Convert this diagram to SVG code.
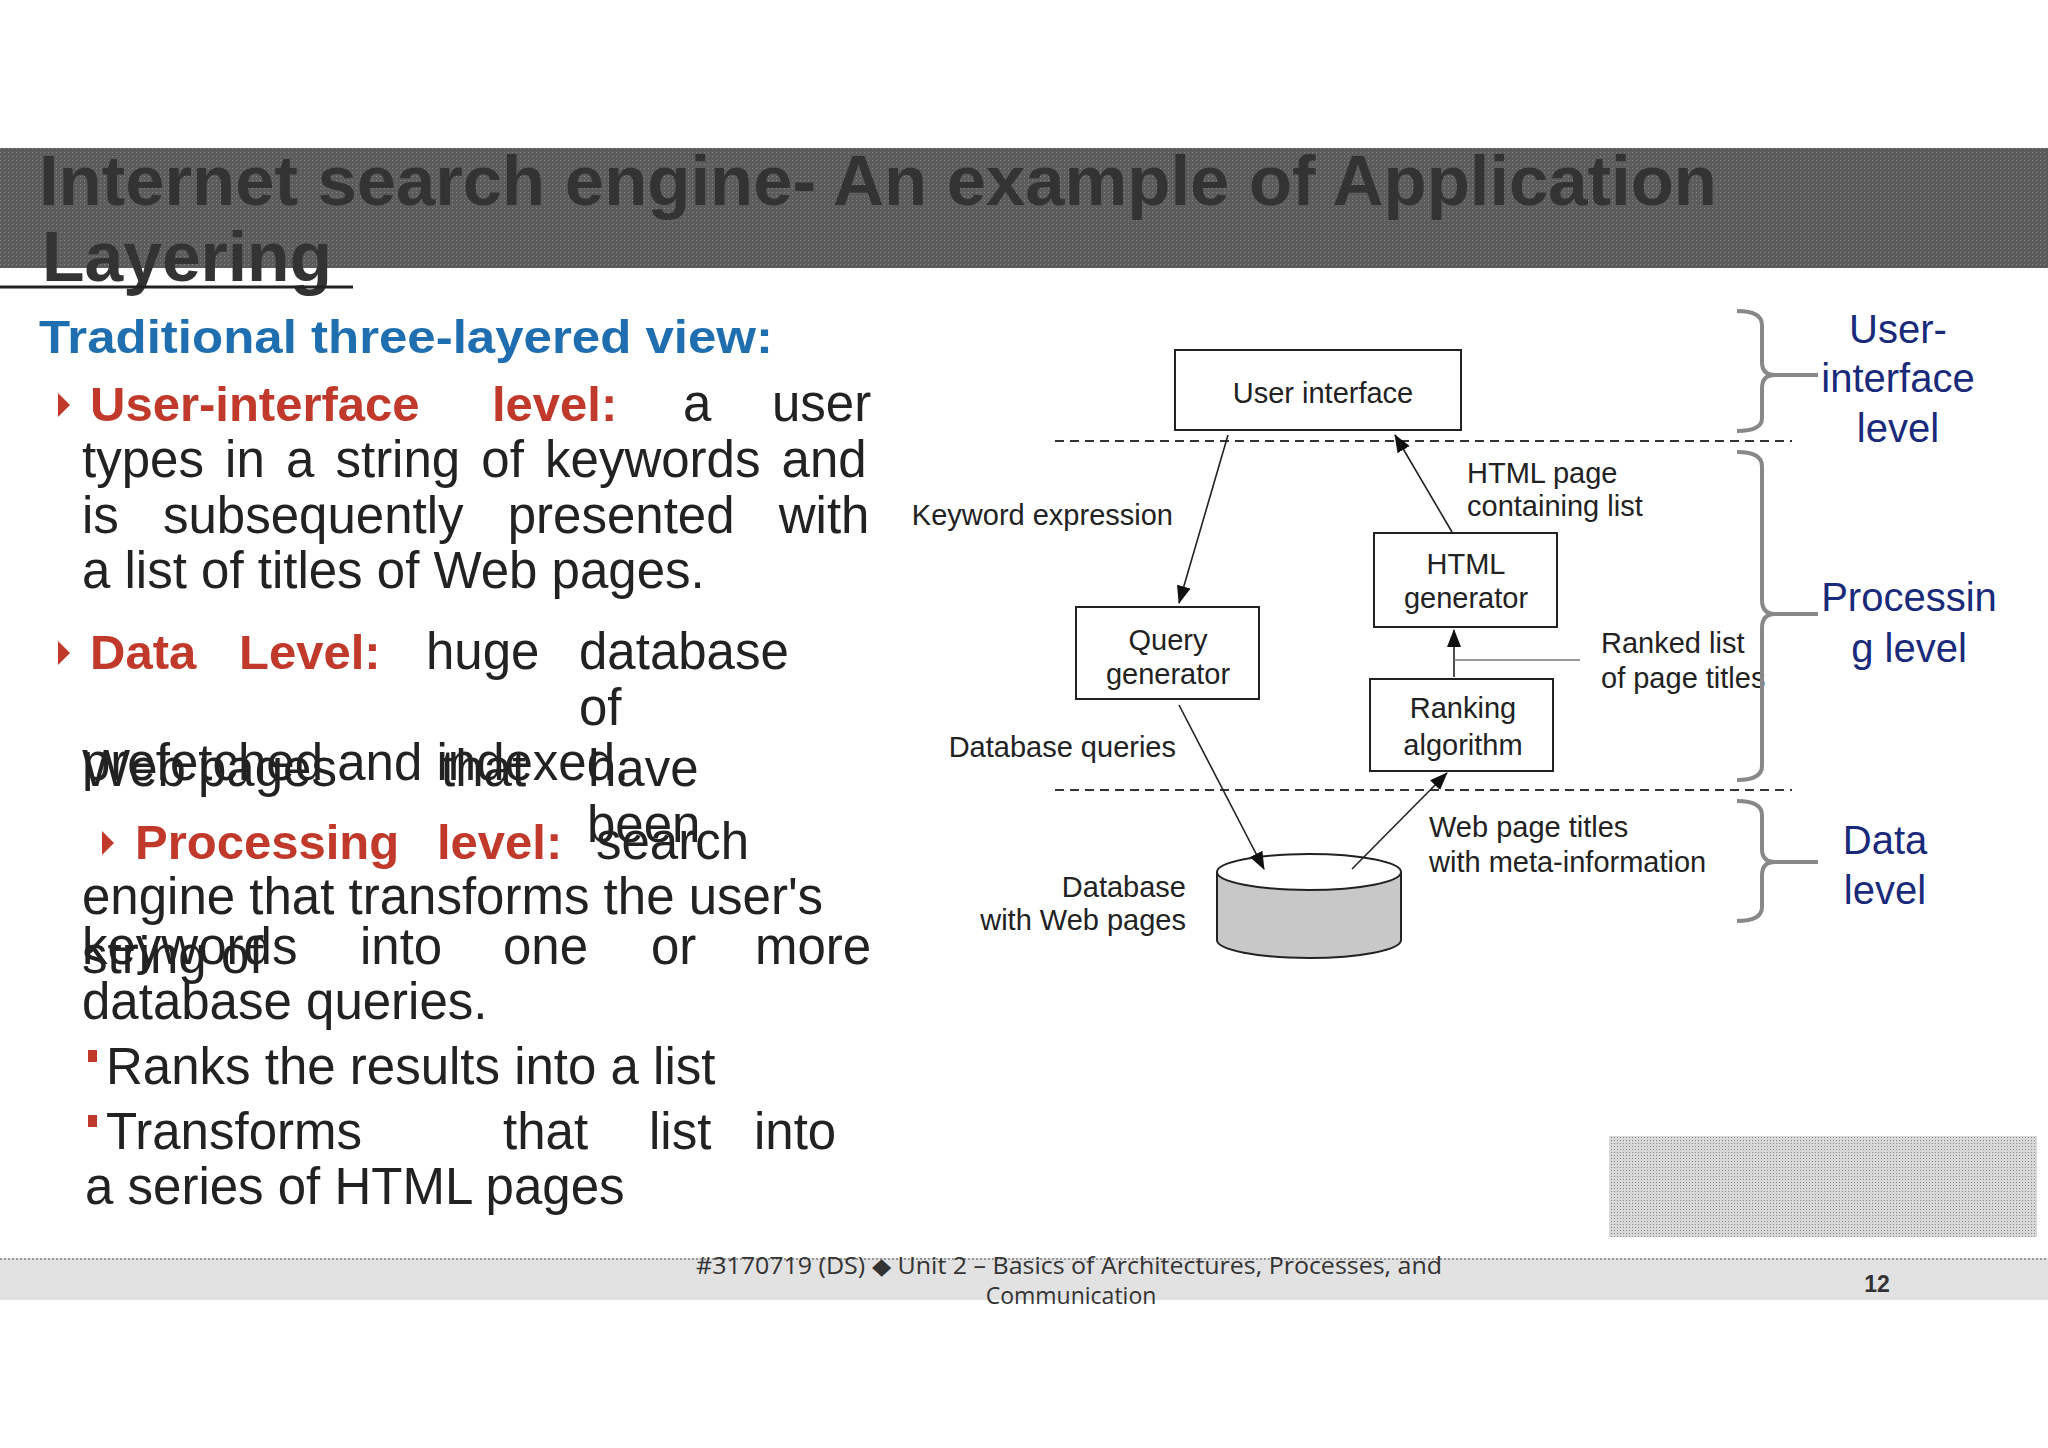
<svg xmlns="http://www.w3.org/2000/svg" width="2048" height="1448" viewBox="0 0 2048 1448">
<defs>
<pattern id="dots" width="4" height="4" patternUnits="userSpaceOnUse"><rect width="4" height="4" fill="#5c5c5c"/><rect width="1" height="1" fill="#8a8a8a"/></pattern>
<pattern id="dots2" width="3" height="3" patternUnits="userSpaceOnUse"><rect width="3" height="3" fill="#d8d8d8"/><rect width="1" height="1" fill="#888"/></pattern>
<marker id="ah" markerWidth="18" markerHeight="14" refX="17" refY="7" orient="auto" markerUnits="userSpaceOnUse"><path d="M0,0 L18,7 L0,14 Z" fill="#111"/></marker>
</defs>
<style>
.t{font-family:"Liberation Sans",Arial,sans-serif}
.body{font-family:"Liberation Sans",Arial,sans-serif;font-size:51px;fill:#222}
.red{font-family:"Liberation Sans",Arial,sans-serif;font-size:49px;fill:#c0392b;font-weight:bold}
.box{fill:#fff;stroke:#222;stroke-width:2}
.lbl{font-family:"Liberation Sans",Arial,sans-serif;font-size:29px;fill:#222}
.nv{font-family:"Liberation Sans",Arial,sans-serif;font-size:40px;fill:#1a2a7a;text-anchor:middle}
.brace{fill:none;stroke:#888;stroke-width:4}
.edge{stroke:#222;stroke-width:1.6;fill:none;marker-end:url(#ah)}
</style>
<rect width="2048" height="1448" fill="#fff"/>
<rect x="0" y="148" width="2048" height="120" fill="url(#dots)"/>
<text class="t" x="39" y="205" font-size="70" font-weight="bold" fill="#333" textLength="1678" lengthAdjust="spacingAndGlyphs">Internet search engine- An example of Application</text>
<text class="t" x="42" y="281" font-size="70" font-weight="bold" fill="#333" textLength="290" lengthAdjust="spacingAndGlyphs">Layering</text>
<line x1="0" y1="287" x2="353" y2="287" stroke="#222" stroke-width="3"/>
<text class="t" x="39" y="353" font-size="47" font-weight="bold" fill="#1f6fb0" textLength="734" lengthAdjust="spacingAndGlyphs">Traditional three-layered view:</text>
<g id="text-left">
<path d="M58,393 L70,405 L58,417 Z" fill="#c0392b"/>
<text class="red" x="90" y="421">User-interface</text>
<text class="red" x="492" y="421">level:</text>
<text class="body" x="683" y="421">a</text>
<text class="body" x="772" y="421">user</text>
<text class="body" x="82" y="477" word-spacing="7">types in a string of keywords and</text>
<text class="body" x="82" y="533" word-spacing="30">is subsequently presented with</text>
<text class="body" x="82" y="588">a list of titles of Web pages.</text>
<path d="M58,641 L70,653 L58,665 Z" fill="#c0392b"/>
<text class="red" x="90" y="669">Data</text>
<text class="red" x="239" y="669">Level:</text>
<text class="body" x="426" y="669">huge</text>
<text class="body" x="579" y="669">database</text>
<text class="body" x="579" y="725">of</text>
<text class="body" x="82" y="786">Web</text>
<text class="body" x="198" y="786">pages</text>
<text class="body" x="441" y="786">that</text>
<text class="body" x="588" y="786">have</text>
<text class="body" x="82" y="780">prefetched and indexed.</text>
<text class="body" x="587" y="842">been</text>
<path d="M102,831 L114,843 L102,855 Z" fill="#c0392b"/>
<text class="red" x="135" y="859">Processing</text>
<text class="red" x="437" y="859">level:</text>
<text class="body" x="596" y="859">search</text>
<text class="body" x="82" y="914">engine that transforms the user's</text>
<text class="body" x="82" y="964">keywords</text>
<text class="body" x="360" y="964">into</text>
<text class="body" x="503" y="964">one</text>
<text class="body" x="651" y="964">or</text>
<text class="body" x="755" y="964">more</text>
<text class="body" x="82" y="973">string of</text>
<text class="body" x="82" y="1019">database queries.</text>
<rect x="88" y="1050" width="9" height="12" fill="#c0392b"/>
<text class="body" x="106" y="1084">Ranks the results into a list</text>
<rect x="88" y="1115" width="9" height="12" fill="#c0392b"/>
<text class="body" x="106" y="1149">Transforms</text>
<text class="body" x="503" y="1149">that</text>
<text class="body" x="649" y="1149">list</text>
<text class="body" x="754" y="1149">into</text>
<text class="body" x="85" y="1204">a series of HTML pages</text>
</g>
<g id="layers">
<line x1="1055" y1="441" x2="1792" y2="441" stroke="#333" stroke-width="2" stroke-dasharray="9,6"/>
<line x1="1055" y1="790" x2="1792" y2="790" stroke="#333" stroke-width="2" stroke-dasharray="9,6"/>
</g>
<g id="ui"><rect class="box" x="1175" y="350" width="286" height="80"/><text class="lbl" x="1323" y="403" text-anchor="middle">User interface</text></g>
<g id="htmlgen"><rect class="box" x="1374" y="533" width="183" height="94"/><text class="lbl" x="1466" y="574" text-anchor="middle">HTML</text><text class="lbl" x="1466" y="608" text-anchor="middle">generator</text></g>
<g id="querygen"><rect class="box" x="1076" y="607" width="183" height="92"/><text class="lbl" x="1168" y="650" text-anchor="middle">Query</text><text class="lbl" x="1168" y="684" text-anchor="middle">generator</text></g>
<g id="ranking"><rect class="box" x="1370" y="679" width="183" height="92"/><text class="lbl" x="1463" y="718" text-anchor="middle">Ranking</text><text class="lbl" x="1463" y="755" text-anchor="middle">algorithm</text></g>
<g id="db">
<path d="M1217,872 L1217,940 A92,18 0 0 0 1401,940 L1401,872" fill="#c8c8c8" stroke="#222" stroke-width="2"/>
<ellipse cx="1309" cy="872" rx="92" ry="18" fill="#fff" stroke="#222" stroke-width="2"/>
<text class="lbl" x="1186" y="897" text-anchor="end">Database</text>
<text class="lbl" x="1186" y="930" text-anchor="end">with Web pages</text>
</g>
<g id="connectors">
<line class="edge" x1="1228" y1="435" x2="1179" y2="603"/>
<line class="edge" x1="1452" y1="532" x2="1395" y2="435"/>
<line class="edge" x1="1454" y1="677" x2="1454" y2="630"/>
<line x1="1454" y1="660" x2="1580" y2="660" stroke="#777" stroke-width="1.6"/>
<line class="edge" x1="1179" y1="705" x2="1264" y2="869"/>
<line class="edge" x1="1352" y1="869" x2="1447" y2="773"/>
</g>
<g id="labels">
<text class="lbl" x="1173" y="525" text-anchor="end">Keyword expression</text>
<text class="lbl" x="1467" y="483">HTML page</text>
<text class="lbl" x="1467" y="516">containing list</text>
<text class="lbl" x="1601" y="653">Ranked list</text>
<text class="lbl" x="1601" y="688">of page titles</text>
<text class="lbl" x="1176" y="757" text-anchor="end">Database queries</text>
<text class="lbl" x="1429" y="837">Web page titles</text>
<text class="lbl" x="1429" y="872">with meta-information</text>
</g>
<g id="braces">
<path class="brace" d="M1737,311 Q1762,311 1762,325 L1762,362 Q1762,375 1775,375 L1818,375 M1775,375 Q1762,375 1762,388 L1762,418 Q1762,431 1737,431"/>
<path class="brace" d="M1737,452 Q1762,452 1762,466 L1762,600 Q1762,614 1775,614 L1818,614 M1775,614 Q1762,614 1762,628 L1762,766 Q1762,780 1737,780"/>
<path class="brace" d="M1737,801 Q1762,801 1762,815 L1762,849 Q1762,862 1775,862 L1818,862 M1775,862 Q1762,862 1762,875 L1762,907 Q1762,921 1737,921"/>
<text class="nv" x="1898" y="343">User-</text>
<text class="nv" x="1898" y="392">interface</text>
<text class="nv" x="1898" y="442">level</text>
<text class="nv" x="1909" y="611">Processin</text>
<text class="nv" x="1909" y="662">g level</text>
<text class="nv" x="1885" y="854">Data</text>
<text class="nv" x="1885" y="904">level</text>
</g>
<rect x="1609" y="1136" width="428" height="101" fill="url(#dots2)"/>
<rect x="0" y="1258" width="2048" height="42" fill="#e2e2e2"/>
<line x1="0" y1="1259" x2="2048" y2="1259" stroke="#999" stroke-width="2" stroke-dasharray="2,2"/>
<text x="696" y="1274" font-size="23" fill="#333" font-family="'Open Sans',sans-serif" textLength="746" lengthAdjust="spacingAndGlyphs">#3170719 (DS)   ◆   Unit 2 – Basics of Architectures, Processes, and</text>
<text x="1071" y="1304" font-size="23" fill="#333" text-anchor="middle" font-family="'Open Sans',sans-serif">Communication</text>
<text class="t" x="1877" y="1292" font-size="23" font-weight="bold" fill="#333" text-anchor="middle">12</text>
</svg>
